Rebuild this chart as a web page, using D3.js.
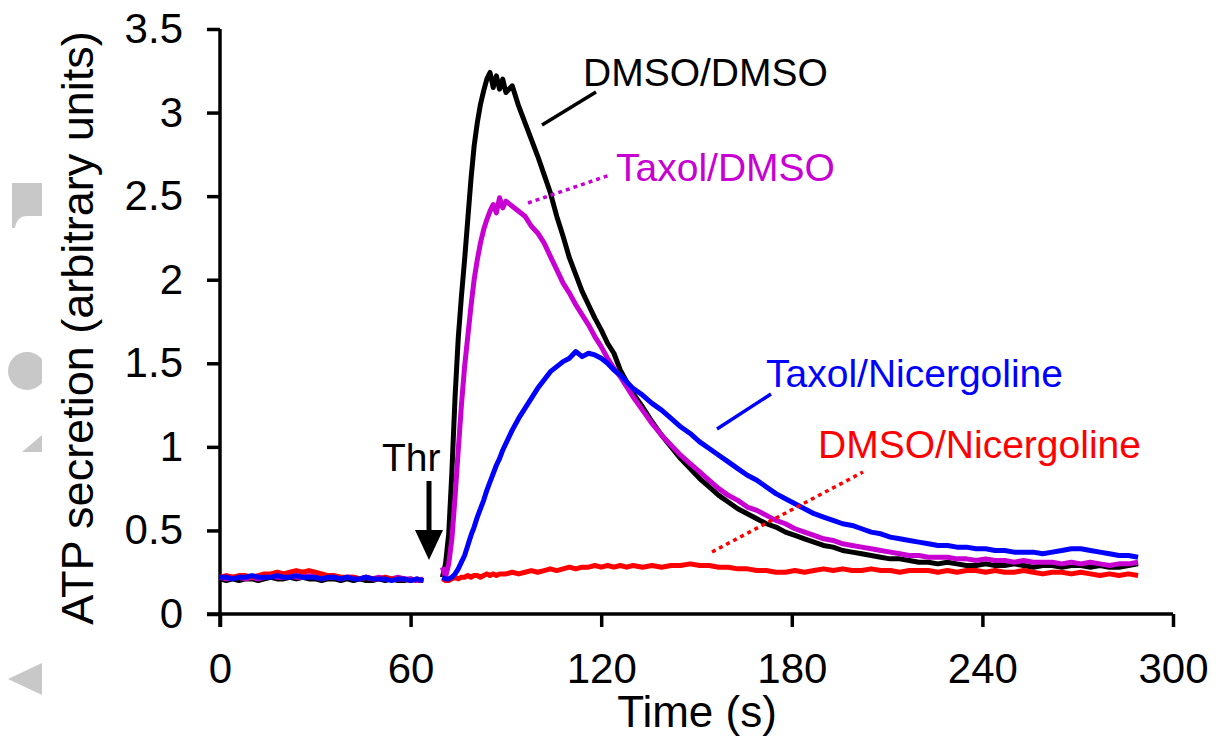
<!DOCTYPE html>
<html lang="en">
<head>
  <meta charset="UTF-8">
  <title>ATP secretion</title>
  <style>
    body, html { margin: 0; padding: 0; background: #fff; }
    svg text { font-family: "Liberation Sans", Arial, sans-serif; }
  </style>
</head>
<body>
  <svg id="svg" width="1218" height="749"></svg>
  <script src="https://d3js.org/d3.v7.min.js"></script>
  <script>
    // time points (s); 67 marks the break while thrombin is added
    const time = [
      0,2,4,6,8,10,12,14,16,18,20,22,24,26,28,30,32,34,36,38,40,42,44,46,48,50,52,54,56,58,60,62,64,
      67,
      70,71,72,73,74,75,76,77,78,79,80,81,82,83,84,85,86,87,88,89,90,
      92,94,96,98,100,102,104,106,108,110,112,114,116,118,120,122,124,126,128,130,
      133,136,139,142,145,148,151,154,157,160,163,166,169,172,175,178,181,184,187,190,
      193,196,199,202,205,208,211,214,217,220,223,226,229,232,235,238,241,244,247,250,
      253,256,259,262,265,268,271,274,277,280,283,286,289
    ]

    const dmsoDmso = [
      0.21,0.20,0.21,0.20,0.21,0.21,0.20,0.21,0.22,0.21,0.21,0.22,0.21,0.22,0.21,0.21,0.20,0.21,0.21,0.20,0.21,0.20,0.21,0.20,0.20,0.21,0.20,0.21,0.20,0.20,0.21,0.20,0.20,
      null,
      0.22,0.30,0.48,0.85,1.30,1.65,1.90,2.12,2.36,2.60,2.80,2.94,3.05,3.13,3.20,3.24,3.15,3.22,3.14,3.20,3.12,
      3.16,3.04,2.94,2.84,2.74,2.63,2.52,2.38,2.26,2.13,2.03,1.93,1.85,1.77,1.70,1.62,1.56,1.46,1.39,1.32,
      1.24,1.15,1.07,1.00,0.93,0.87,0.81,0.76,0.71,0.67,0.63,0.60,0.57,0.54,0.52,0.49,0.47,0.45,0.43,0.41,
      0.40,0.38,0.37,0.36,0.35,0.34,0.33,0.33,0.32,0.31,0.31,0.30,0.31,0.30,0.29,0.29,0.30,0.29,0.29,0.30,
      0.29,0.28,0.29,0.29,0.28,0.29,0.29,0.28,0.29,0.28,0.28,0.29,0.30
    ]
    const taxolDmso = [
      0.22,0.21,0.22,0.22,0.21,0.22,0.21,0.22,0.23,0.22,0.22,0.23,0.22,0.22,0.23,0.22,0.21,0.22,0.22,0.21,0.22,0.22,0.21,0.22,0.21,0.22,0.21,0.21,0.22,0.21,0.21,0.20,0.21,
      null,
      0.28,0.22,0.30,0.45,0.70,0.98,1.25,1.48,1.66,1.84,2.00,2.12,2.22,2.30,2.36,2.41,2.45,2.40,2.49,2.43,2.47,
      2.44,2.41,2.38,2.32,2.28,2.22,2.14,2.06,1.98,1.92,1.85,1.79,1.73,1.66,1.60,1.53,1.47,1.42,1.36,1.30,
      1.22,1.14,1.07,1.01,0.95,0.90,0.85,0.80,0.75,0.71,0.68,0.64,0.62,0.59,0.56,0.54,0.51,0.49,0.47,0.45,
      0.44,0.42,0.41,0.40,0.39,0.38,0.37,0.36,0.35,0.35,0.34,0.34,0.34,0.33,0.33,0.32,0.33,0.32,0.32,0.31,
      0.32,0.31,0.31,0.31,0.30,0.31,0.30,0.31,0.30,0.29,0.30,0.30,0.31
    ]
    const taxolNicer = [
      0.22,0.22,0.21,0.22,0.22,0.23,0.22,0.22,0.22,0.23,0.22,0.22,0.23,0.22,0.22,0.22,0.21,0.22,0.22,0.21,0.22,0.21,0.21,0.22,0.21,0.21,0.21,0.20,0.21,0.21,0.20,0.21,0.20,
      null,
      0.22,0.21,0.21,0.22,0.24,0.27,0.31,0.35,0.41,0.47,0.52,0.58,0.63,0.68,0.74,0.79,0.84,0.89,0.93,0.98,1.02,
      1.10,1.17,1.23,1.29,1.35,1.40,1.45,1.48,1.51,1.53,1.57,1.54,1.56,1.55,1.53,1.50,1.46,1.43,1.39,1.35,
      1.31,1.26,1.22,1.17,1.12,1.08,1.03,0.99,0.95,0.91,0.87,0.83,0.80,0.76,0.72,0.69,0.66,0.63,0.60,0.58,
      0.56,0.54,0.53,0.51,0.49,0.48,0.46,0.45,0.44,0.43,0.42,0.41,0.41,0.40,0.40,0.39,0.39,0.38,0.38,0.37,
      0.37,0.37,0.36,0.37,0.38,0.39,0.39,0.38,0.37,0.36,0.35,0.35,0.34
    ]
    const dmsoNicer = [
      0.22,0.23,0.22,0.23,0.23,0.22,0.23,0.24,0.24,0.25,0.24,0.25,0.26,0.25,0.26,0.25,0.24,0.23,0.23,0.22,0.22,0.22,0.21,0.22,0.21,0.21,0.22,0.21,0.21,0.21,0.20,0.21,0.20,
      null,
      0.21,0.20,0.20,0.21,0.22,0.21,0.22,0.22,0.23,0.22,0.23,0.23,0.22,0.23,0.24,0.23,0.24,0.23,0.24,0.24,0.24,
      0.25,0.24,0.25,0.26,0.25,0.26,0.27,0.26,0.27,0.28,0.27,0.28,0.28,0.29,0.28,0.29,0.28,0.29,0.28,0.29,
      0.28,0.29,0.28,0.29,0.29,0.30,0.29,0.29,0.28,0.28,0.27,0.27,0.26,0.26,0.25,0.25,0.26,0.25,0.26,0.27,
      0.26,0.27,0.26,0.26,0.27,0.26,0.26,0.25,0.26,0.26,0.26,0.25,0.26,0.25,0.26,0.26,0.25,0.26,0.25,0.25,
      0.26,0.25,0.24,0.25,0.25,0.24,0.25,0.24,0.23,0.24,0.23,0.24,0.23
    ]

    const xTicks = [0, 60, 120, 180, 240, 300]
    const yTicks = [0, 0.5, 1, 1.5, 2, 2.5, 3, 3.5]

    const series = [
      { name: 'DMSO/DMSO', values: dmsoDmso, color: '#000000' },
      { name: 'Taxol/DMSO', values: taxolDmso, color: '#c800d2' },
      { name: 'DMSO/Nicergoline', values: dmsoNicer, color: '#ff0000' },
      { name: 'Taxol/Nicergoline', values: taxolNicer, color: '#0000ff' }
    ]

    const svg = d3.select('#svg')

    const xScale = d3.scaleLinear().domain([0, 300]).range([220, 1173])
    const yScale = d3.scaleLinear().domain([0, 3.5]).range([614, 29])

    // grey side markers (cut off at the left edge of the figure)
    const side = svg.append('g').attr('fill', '#c8c8c8')
    side.append('path').attr('d', 'M12,183 H42 V216 H27 Q17,216 15,228 H12 Z')
    side.append('clipPath').attr('id', 'sideclip')
      .append('rect').attr('x', 0).attr('y', 0).attr('width', 42).attr('height', 749)
    side.append('circle').attr('cx', 27).attr('cy', 371).attr('r', 19)
      .attr('clip-path', 'url(#sideclip)')
    side.append('path').attr('d', 'M22,452 L42,435 L42,452 Z')
    side.append('path').attr('d', 'M8,679 L42,663 L42,695 Z')

    // axes
    const yAxis = svg.append('g')
      .attr('transform', 'translate(220,0)')
      .call(d3.axisLeft(yScale).tickValues(yTicks).tickSize(13).tickSizeOuter(0).tickPadding(24)
        .tickFormat(d => d))
    const xAxis = svg.append('g')
      .attr('transform', 'translate(0,614)')
      .call(d3.axisBottom(xScale).tickValues(xTicks).tickSize(13).tickSizeOuter(0).tickPadding(26))

    ;[xAxis, yAxis].forEach(ax => {
      ax.selectAll('path, line').attr('stroke', '#000').attr('stroke-width', 3.5)
      ax.selectAll('text').attr('fill', '#000').style('font-size', '42px')
        .style('font-family', '"Liberation Sans", Arial, sans-serif')
    })
    xAxis.select('.domain').attr('d', 'M207,0 H1173')
    yAxis.select('.domain').attr('d', 'M0,29 V627')

    // axis titles
    svg.append('text')
      .attr('transform', 'translate(93,328) rotate(-90)')
      .attr('text-anchor', 'middle')
      .style('font-size', '45px')
      .text('ATP secretion (arbitrary units)')
    svg.append('text')
      .attr('x', 697).attr('y', 727)
      .attr('text-anchor', 'middle')
      .style('font-size', '44px')
      .text('Time (s)')

    // traces
    const line = d3.line()
      .defined(d => d[1] !== null)
      .x(d => xScale(d[0]))
      .y(d => yScale(d[1]))

    svg.append('g').selectAll('path')
      .data(series)
      .enter()
      .append('path')
      .attr('d', s => line(time.map((t, i) => [t, s.values[i]])))
      .attr('fill', 'none')
      .attr('stroke', s => s.color)
      .attr('stroke-width', 5)
      .attr('stroke-linejoin', 'round')

    // labels with leader lines
    const labels = [
      { text: 'DMSO/DMSO', color: '#000000', x: 583, y: 86, line: [542, 125, 596, 92], dash: null },
      { text: 'Taxol/DMSO', color: '#c800d2', x: 616, y: 181, line: [528, 203, 610, 175], dash: '4,4' },
      { text: 'Taxol/Nicergoline', color: '#0000ff', x: 766, y: 387, line: [717, 429, 771, 394], dash: null },
      { text: 'DMSO/Nicergoline', color: '#ff0000', x: 818, y: 458, line: [712, 552, 863, 472], dash: '4,4' }
    ]
    const lab = svg.append('g')
    labels.forEach(l => {
      lab.append('line')
        .attr('x1', l.line[0]).attr('y1', l.line[1])
        .attr('x2', l.line[2]).attr('y2', l.line[3])
        .attr('stroke', l.color).attr('stroke-width', 3.5)
        .attr('stroke-dasharray', l.dash)
      lab.append('text')
        .attr('x', l.x).attr('y', l.y)
        .attr('fill', l.color)
        .style('font-size', '39px')
        .text(l.text)
    })

    // thrombin arrow
    svg.append('text').attr('x', 382).attr('y', 471).style('font-size', '39px').text('Thr')
    svg.append('line').attr('x1', 429).attr('y1', 481).attr('x2', 429).attr('y2', 532)
      .attr('stroke', '#000').attr('stroke-width', 5)
    svg.append('path').attr('d', 'M415,530 L443,530 L429,560 Z').attr('fill', '#000')
  </script>
</body>
</html>
